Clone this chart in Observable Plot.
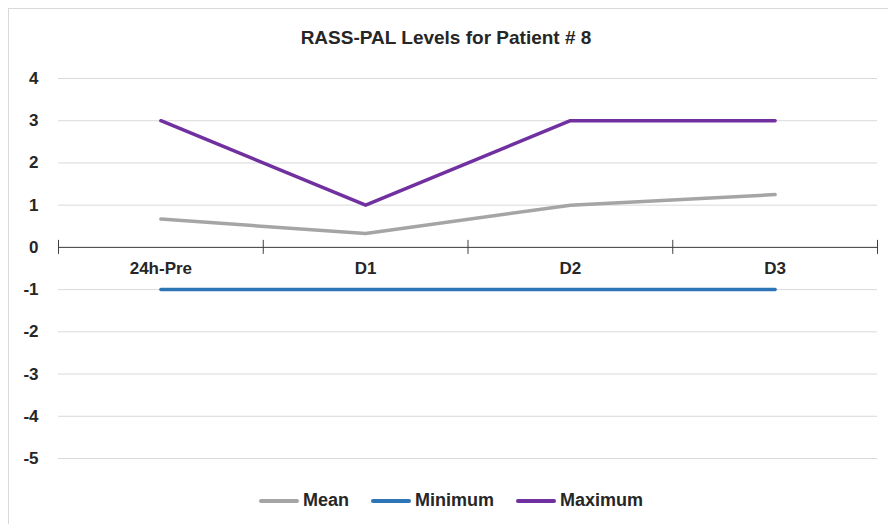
<!DOCTYPE html>
<html>
<head>
<meta charset="utf-8">
<script src="https://cdn.jsdelivr.net/npm/d3@7"></script>
<script src="https://cdn.jsdelivr.net/npm/@observablehq/plot@0.6"></script>
<style>
  body { margin: 0; background: #fff; }
  #wrap { position: relative; width: 888px; height: 524px; overflow: hidden; font-family: "Liberation Sans", Arial, sans-serif; }
  #frame { position: absolute; left: 8px; top: 8px; width: 900px; height: 600px; border-left: 1px solid #d9d9d9; border-top: 1px solid #d9d9d9; }
  #chart { position: absolute; left: 0; top: 0; }
  #title { position: absolute; left: 0; width: 888px; top: 27px; text-align: center; font-weight: bold; font-size: 19px; color: #262626; padding-left: 4px; box-sizing: border-box; }
  #legend { position: absolute; left: 0; width: 888px; top: 490px; display: flex; justify-content: center; align-items: center; font-weight: bold; font-size: 18px; color: #262626; padding-left: 14px; box-sizing: border-box; }
  .item { display: flex; align-items: center; margin: 0 11px; }
  .sw { width: 40px; height: 4px; border-radius: 2px; margin-right: 4px; }
</style>
</head>
<body>
<div id="wrap">
  <div id="frame"></div>
  <div id="chart"></div>
  <div id="title">RASS-PAL Levels for Patient # 8</div>
  <div id="legend"></div>
</div>
<script>
const categories = ["24h-Pre", "D1", "D2", "D3"];
const meanValues = [0.67, 0.33, 1.0, 1.25];
const minValues = [-1, -1, -1, -1];
const maxValues = [3, 1, 3, 3];
const yTicks = [-5, -4, -3, -2, -1, 0, 1, 2, 3, 4];
const seriesNames = ["Mean", "Minimum", "Maximum"];
const seriesColors = ["#a5a5a5", "#2e75b6", "#7030a0"];

const seriesValues = [meanValues, minValues, maxValues];
const rows = [];
seriesNames.forEach((s, k) => {
  categories.forEach((c, i) => rows.push({series: s, idx: i + 0.5, cat: c, value: seriesValues[k][i]}));
});
const catRows = categories.map((c, i) => ({idx: i + 0.5, cat: c}));
const boundaries = d3.range(categories.length + 1);

const plot = Plot.plot({
  width: 888,
  height: 524,
  marginTop: 78,
  marginBottom: 66,
  marginLeft: 58,
  marginRight: 11,
  x: {domain: [0, categories.length], axis: null},
  y: {domain: [-5, 4], ticks: yTicks, axis: null},
  color: {domain: seriesNames, range: seriesColors},
  style: {fontFamily: "'Liberation Sans', Arial, sans-serif", background: "transparent"},
  marks: [
    Plot.gridY(yTicks, {stroke: "#d9d9d9", strokeOpacity: 1, strokeWidth: 1}),
    Plot.axisY(yTicks, {tickSize: 0, tickPadding: 20, fontSize: 17, fontWeight: "bold", fill: "#262626", label: null, tickFormat: d => String(d)}),
    Plot.ruleY([0], {stroke: "#404040", strokeWidth: 1}),
    Plot.ruleX(boundaries, {y1: 0, y2: 0, insetTop: -7, insetBottom: -7, stroke: "#404040", strokeWidth: 1}),
    Plot.text(catRows, {x: "idx", y: 0, text: "cat", dy: 21, fontSize: 17, fontWeight: "bold", fill: "#262626"}),
    Plot.line(rows, {x: "idx", y: "value", z: "series", stroke: "series", strokeWidth: 3.5, strokeLinecap: "round", strokeLinejoin: "round"})
  ]
});
document.getElementById("chart").appendChild(plot);

const legend = document.getElementById("legend");
seriesNames.forEach((s, k) => {
  const it = document.createElement("div");
  it.className = "item";
  const sw = document.createElement("div");
  sw.className = "sw";
  sw.style.background = seriesColors[k];
  const t = document.createElement("span");
  t.textContent = s;
  it.appendChild(sw); it.appendChild(t);
  legend.appendChild(it);
});
</script>
</body>
</html>
